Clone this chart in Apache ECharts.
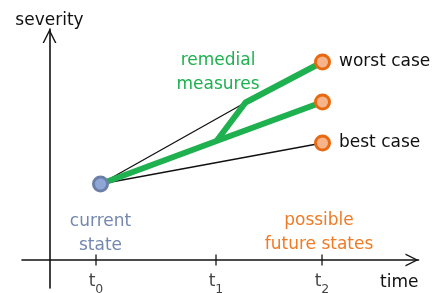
<!DOCTYPE html>
<html lang="en">
<head>
    <meta charset="UTF-8">
    <title>severity over time</title>
    <script src="https://cdn.jsdelivr.net/npm/echarts@6/dist/echarts.min.js"></script>
    <style>
        html, body {margin: 0; padding: 0; background: #fff;}
        #c {width: 440px; height: 293px;}
    </style>
</head>
<body>
<div id="c"></div>
<script type="text/javascript">
// time ticks (t0, t1, t2) and their subscripts
var xTicks = [46.5, 166.5, 272.5];
var tickSubs = ['0', '1', '2'];

// states: [time, severity]
var currentState = [51, 76];
var worstCase = [273, 198];
var middleCase = [273, 158];
var bestCase = [273, 117];

// remedial measures branch
var splitPoint = [167, 119];
var remedialKink = [196, 157.5];

var FONT = 'DejaVu Sans';
var GREEN = '#1fb04f';
var ORANGE = '#e8690f';
var BLUE = '#6b7fa9';
var AXIS = '#111';
var chevron = 'path://M5,0 L10,10 L8.9,10 L5,2.1 L1.1,10 L0,10 Z';

var myChart = echarts.init(document.getElementById('c'));

var option = {
    animation: false,
    grid: {left: 22, right: 21.5, top: 29, bottom: 5, containLabel: false, outerBoundsMode: 'none'},
    xAxis: {
        type: 'value', min: -27.5, max: 369,
        name: 'time', nameLocation: 'end', nameGap: 0,
        nameTextStyle: {fontFamily: FONT, fontSize: 17, color: '#111',
            align: 'right', verticalAlign: 'top', padding: [14, 0, 0, 0]},
        axisLine: {onZero: true, lineStyle: {color: AXIS, width: 1.6},
            symbol: ['none', chevron], symbolSize: [13, 13], symbolOffset: [0, -6.5]},
        axisTick: {show: false},
        splitLine: {show: false},
        axisLabel: {show: false}
    },
    yAxis: {
        type: 'value', min: -28, max: 231,
        name: 'severity', nameLocation: 'end', nameGap: 0,
        nameTextStyle: {fontFamily: FONT, fontSize: 17, color: '#111'},
        axisLine: {onZero: true, lineStyle: {color: AXIS, width: 1.6},
            symbol: ['none', chevron], symbolSize: [14, 14], symbolOffset: [0, -7]},
        axisTick: {show: false},
        splitLine: {show: false},
        axisLabel: {show: false}
    },
    graphic: [
        {type: 'text', x: 218, y: 49, style: {text: 'remedial\nmeasures', fill: GREEN,
            fontFamily: FONT, fontSize: 17, lineHeight: 24, align: 'center', verticalAlign: 'top'}},
        {type: 'text', x: 319, y: 209, style: {text: 'possible\nfuture states', fill: '#ef7b26',
            fontFamily: FONT, fontSize: 17, lineHeight: 24, align: 'center', verticalAlign: 'top'}}
    ],
    series: [
        {type: 'line', data: [currentState, remedialKink], showSymbol: false, z: 2,
            lineStyle: {color: '#111', width: 1.3}},
        {type: 'line', data: [currentState, bestCase], showSymbol: false, z: 2,
            lineStyle: {color: '#111', width: 1.3}},
        {type: 'line', data: [currentState, splitPoint, middleCase], showSymbol: false, z: 3,
            lineStyle: {color: GREEN, width: 6}},
        {type: 'line', data: [splitPoint, remedialKink, worstCase], showSymbol: false, z: 3,
            lineStyle: {color: GREEN, width: 6}},
        {type: 'scatter', z: 4, symbol: 'rect', symbolSize: [1.6, 11],
            itemStyle: {color: AXIS},
            label: {
                show: true, position: 'bottom', distance: 7.5, color: '#111',
                fontFamily: FONT, fontSize: 17,
                formatter: function (p) {
                    return '{t|t}{s|' + tickSubs[p.dataIndex] + '}';
                },
                rich: {
                    t: {fontFamily: FONT, fontSize: 17, color: '#111', verticalAlign: 'top', lineHeight: 17},
                    s: {fontFamily: FONT, fontSize: 12.5, color: '#111', verticalAlign: 'bottom', lineHeight: 23}
                }
            },
            data: xTicks.map(function (t) { return [t, 0]; })},
        {type: 'scatter', z: 5, symbolSize: 14,
            itemStyle: {color: '#f7b48a', borderColor: ORANGE, borderWidth: 3, opacity: 1},
            label: {show: true, position: 'right', distance: 8, fontFamily: FONT, fontSize: 17,
                color: '#111', formatter: function (p) { return p.data.name; }},
            data: [
                {value: worstCase, name: 'worst case'},
                {value: middleCase, name: ''},
                {value: bestCase, name: 'best case'}
            ]},
        {type: 'scatter', z: 5, symbolSize: 14,
            itemStyle: {color: '#8ea7d6', borderColor: BLUE, borderWidth: 3, opacity: 1},
            label: {show: true, position: 'bottom', distance: 17, fontFamily: FONT, fontSize: 17,
                lineHeight: 24, color: '#7487b0', formatter: 'current\nstate'},
            data: [currentState]}
    ]
};
myChart.setOption(option);
</script>
</body>
</html>
